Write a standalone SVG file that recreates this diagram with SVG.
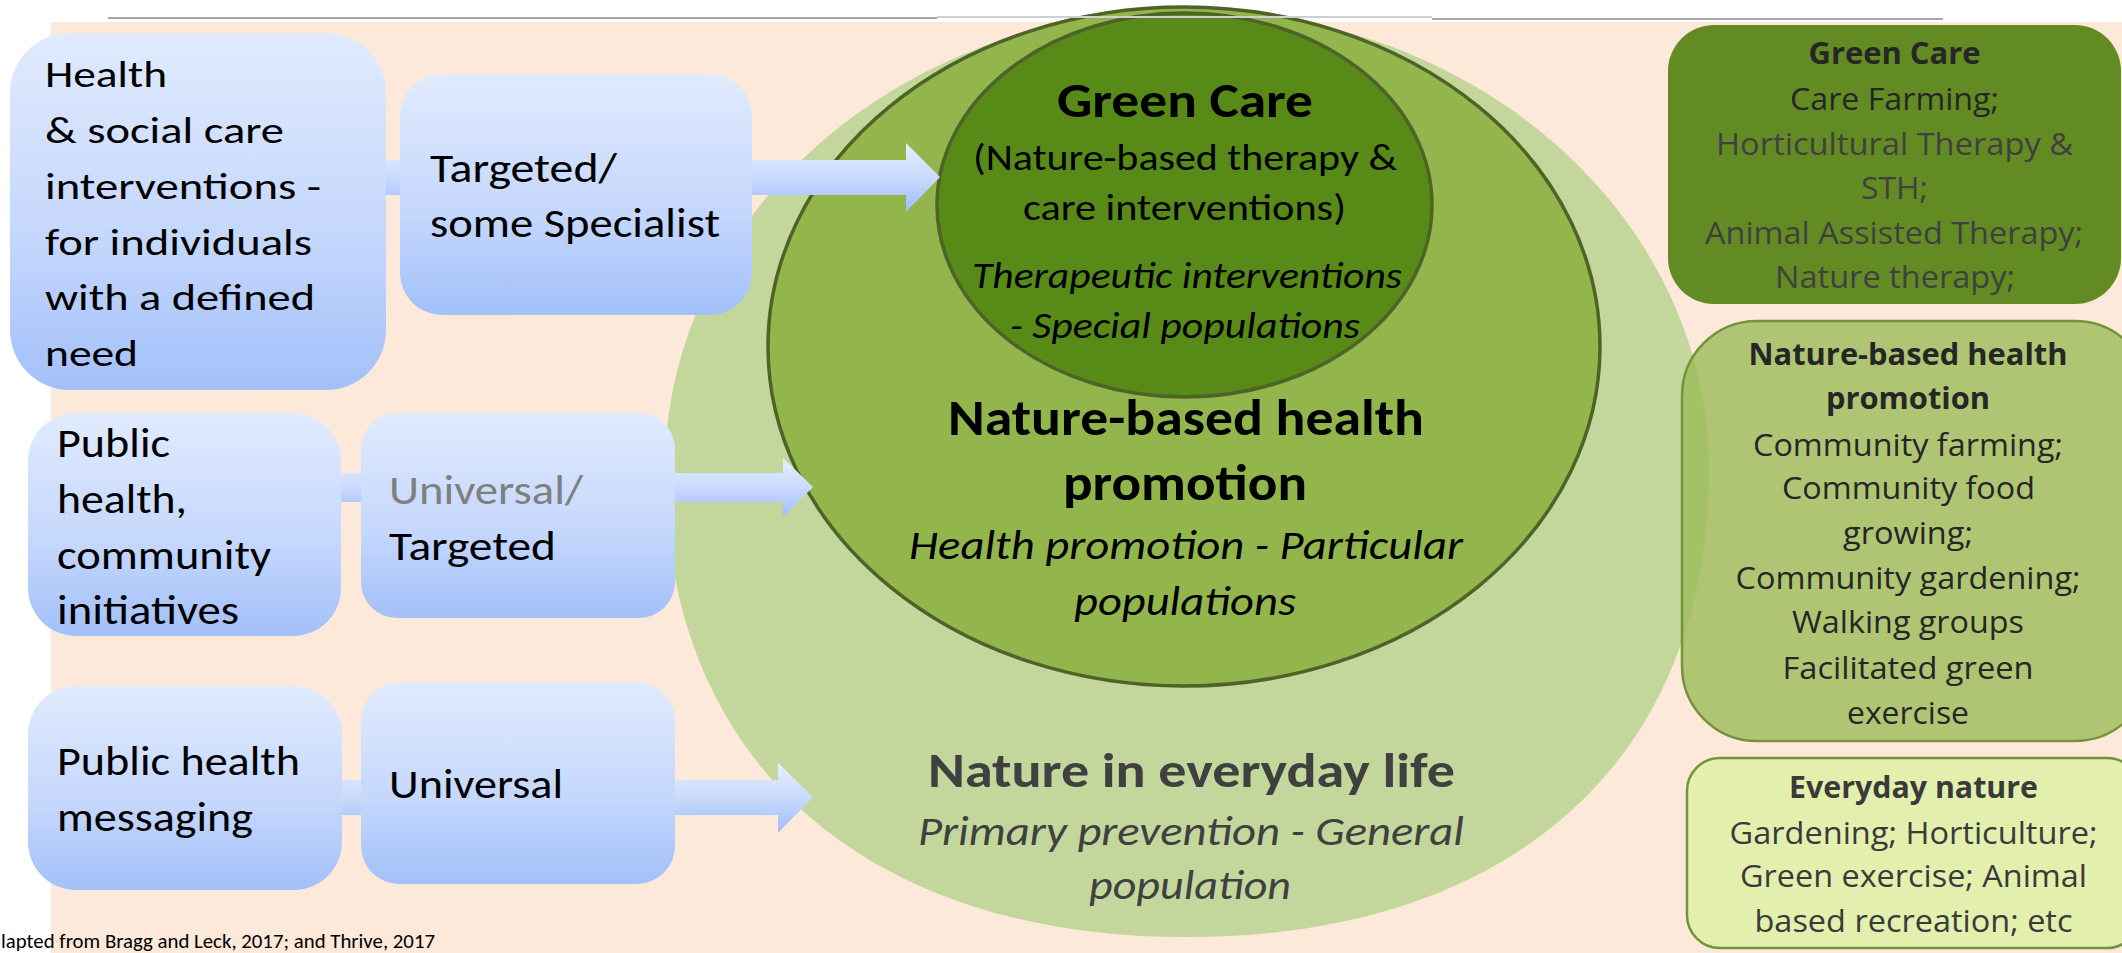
<svg xmlns="http://www.w3.org/2000/svg" width="2122" height="953" viewBox="0 0 2122 953">
<defs>
<linearGradient id="blue" x1="0" y1="0" x2="0" y2="1">
<stop offset="0" stop-color="#e1ebfe"/>
<stop offset="0.6" stop-color="#c3d6fc"/>
<stop offset="1" stop-color="#a2c0fa"/>
</linearGradient>
<linearGradient id="arrowg" x1="0" y1="0" x2="0" y2="1">
<stop offset="0" stop-color="#e8effe"/>
<stop offset="0.5" stop-color="#c9dafd"/>
<stop offset="1" stop-color="#9fbdfa"/>
</linearGradient>
<style>
.lt{font-family:Carlito,Lato,"Liberation Sans",sans-serif;fill:#000}
.rt{font-family:"Open Sans","Noto Sans","DejaVu Sans",sans-serif;font-size:31px}
.b{font-weight:bold}
.i{font-style:italic}
.box{fill:url(#blue)}
.arrow{fill:url(#arrowg)}
</style>
</defs>
<rect x="0" y="0" width="2122" height="953" fill="#ffffff"/>
<rect x="51" y="22" width="2071" height="931" fill="#fde9d9"/>

<g id="outer-everyday">
<path d="M665,470 C665,216 899,10 1187,10 C1475,10 1709,216 1709,470 C1709,760 1511,937 1187,937 C863,937 665,760 665,470 Z" fill="#c3d69b"/>
</g>
<g id="nbhp-ellipse">
<ellipse cx="1184" cy="346.5" rx="416" ry="339.5" fill="#92b64c" stroke="#4f6228" stroke-width="3.5"/>
</g>
<g id="greencare-circle">
<ellipse cx="1184.5" cy="205" rx="247.5" ry="192" fill="#588a17" stroke="#4f6228" stroke-width="3.5"/>
<text class="lt b" x="1057" y="117" font-size="49" textLength="256" lengthAdjust="spacingAndGlyphs">Green Care</text>
<text class="lt" x="973" y="170" font-size="37" textLength="424" lengthAdjust="spacingAndGlyphs">(Nature-based therapy &amp;</text>
<text class="lt" x="1023" y="220" font-size="37" textLength="323" lengthAdjust="spacingAndGlyphs">care interventions)</text>
<text class="lt i" x="972" y="288" font-size="37" textLength="430" lengthAdjust="spacingAndGlyphs">Therapeutic interventions</text>
<text class="lt i" x="1010" y="338" font-size="37" textLength="350" lengthAdjust="spacingAndGlyphs">- Special populations</text>
</g>
<g id="nbhp-text">
<text class="lt b" x="948" y="435" font-size="51" textLength="476" lengthAdjust="spacingAndGlyphs">Nature-based health</text>
<text class="lt b" x="1063" y="500" font-size="51" textLength="244" lengthAdjust="spacingAndGlyphs">promotion</text>
<text class="lt i" x="909" y="559" font-size="41" textLength="554" lengthAdjust="spacingAndGlyphs">Health promotion - Particular</text>
<text class="lt i" x="1074" y="615" font-size="41" textLength="222" lengthAdjust="spacingAndGlyphs">populations</text>
</g>
<g id="everyday-text">
<text class="lt b" x="928" y="787" font-size="48" textLength="527" lengthAdjust="spacingAndGlyphs" style="fill:#404040">Nature in everyday life</text>
<text class="lt i" x="918" y="845" font-size="40" textLength="546" lengthAdjust="spacingAndGlyphs" style="fill:#404040">Primary prevention - General</text>
<text class="lt i" x="1089" y="899" font-size="40" textLength="202" lengthAdjust="spacingAndGlyphs" style="fill:#404040">population</text>
</g>

<g id="connectors">
<polygon class="arrow" points="200,160 906,160 906,143 940,177 906,212 906,195 200,195"/>
<polygon class="arrow" points="180,473 783,473 783,458 813,487 783,517 783,502 180,502"/>
<polygon class="arrow" points="180,780 778,780 778,763 813,797 778,833 778,815 180,815"/>
</g>

<g id="box-health-social">
<rect class="box" x="10" y="33" width="376" height="357" rx="60" ry="60"/>
<text class="lt" x="45" y="87" font-size="37" textLength="122" lengthAdjust="spacingAndGlyphs">Health</text>
<text class="lt" x="45" y="143" font-size="37" textLength="239" lengthAdjust="spacingAndGlyphs">&amp; social care</text>
<text class="lt" x="45" y="199" font-size="37" textLength="276" lengthAdjust="spacingAndGlyphs">interventions -</text>
<text class="lt" x="45" y="255" font-size="37" textLength="267" lengthAdjust="spacingAndGlyphs">for individuals</text>
<text class="lt" x="45" y="310" font-size="37" textLength="270" lengthAdjust="spacingAndGlyphs">with a defined</text>
<text class="lt" x="45" y="366" font-size="37" textLength="93" lengthAdjust="spacingAndGlyphs">need</text>
</g>
<g id="box-targeted-specialist">
<rect class="box" x="400" y="74" width="352" height="241" rx="42" ry="42"/>
<text class="lt" x="430" y="182" font-size="41" textLength="187" lengthAdjust="spacingAndGlyphs">Targeted/</text>
<text class="lt" x="430" y="237" font-size="41" textLength="290" lengthAdjust="spacingAndGlyphs">some Specialist</text>
</g>
<g id="box-public-community">
<rect class="box" x="28" y="413" width="313" height="223" rx="48" ry="48"/>
<text class="lt" x="57" y="457" font-size="41" textLength="113" lengthAdjust="spacingAndGlyphs">Public</text>
<text class="lt" x="57" y="513" font-size="41" textLength="130" lengthAdjust="spacingAndGlyphs">health,</text>
<text class="lt" x="57" y="569" font-size="41" textLength="214" lengthAdjust="spacingAndGlyphs">community</text>
<text class="lt" x="57" y="624" font-size="41" textLength="182" lengthAdjust="spacingAndGlyphs">initiatives</text>
</g>
<g id="box-universal-targeted">
<rect class="box" x="361" y="413" width="314" height="205" rx="36" ry="36"/>
<text class="lt" x="389" y="504" font-size="42" textLength="194" lengthAdjust="spacingAndGlyphs" style="fill:#7f7f7f">Universal/</text>
<text class="lt" x="389" y="560" font-size="42" textLength="167" lengthAdjust="spacingAndGlyphs">Targeted</text>
</g>
<g id="box-public-messaging">
<rect class="box" x="28" y="686" width="314" height="204" rx="48" ry="48"/>
<text class="lt" x="57" y="775" font-size="42" textLength="243" lengthAdjust="spacingAndGlyphs">Public health</text>
<text class="lt" x="57" y="831" font-size="42" textLength="196" lengthAdjust="spacingAndGlyphs">messaging</text>
</g>
<g id="box-universal">
<rect class="box" x="361" y="682" width="314" height="202" rx="38" ry="38"/>
<text class="lt" x="389" y="798" font-size="42" textLength="174" lengthAdjust="spacingAndGlyphs">Universal</text>
</g>

<g id="key-green-care">
<rect x="1668" y="25" width="453" height="279" rx="46" ry="46" fill="#638b23"/>
<text class="rt b" x="1808.5" y="64" fill="#262626" textLength="172" lengthAdjust="spacingAndGlyphs">Green Care</text>
<text class="rt" x="1790" y="110" fill="#262626" textLength="209" lengthAdjust="spacingAndGlyphs">Care Farming;</text>
<text class="rt" x="1716" y="155" fill="#404040" textLength="357" lengthAdjust="spacingAndGlyphs">Horticultural Therapy &amp;</text>
<text class="rt" x="1861" y="199" fill="#404040" textLength="67" lengthAdjust="spacingAndGlyphs">STH;</text>
<text class="rt" x="1705" y="244" fill="#404040" textLength="378" lengthAdjust="spacingAndGlyphs">Animal Assisted Therapy;</text>
<text class="rt" x="1775" y="288" fill="#404040" textLength="240" lengthAdjust="spacingAndGlyphs">Nature therapy;</text>
</g>
<g id="key-nbhp">
<rect x="1682" y="321" width="468" height="420" rx="75" ry="75" fill="#9bbb59" fill-opacity="0.8" stroke="#76923c" stroke-width="2.5"/>
<text class="rt b" x="1748.5" y="364.5" fill="#262626" textLength="319" lengthAdjust="spacingAndGlyphs">Nature-based health</text>
<text class="rt b" x="1826" y="409" fill="#262626" textLength="164" lengthAdjust="spacingAndGlyphs">promotion</text>
<text class="rt" x="1753" y="456" fill="#262626" textLength="310" lengthAdjust="spacingAndGlyphs">Community farming;</text>
<text class="rt" x="1782" y="499" fill="#262626" textLength="253" lengthAdjust="spacingAndGlyphs">Community food</text>
<text class="rt" x="1843" y="544" fill="#262626" textLength="130" lengthAdjust="spacingAndGlyphs">growing;</text>
<text class="rt" x="1735.5" y="589" fill="#262626" textLength="345" lengthAdjust="spacingAndGlyphs">Community gardening;</text>
<text class="rt" x="1792" y="633" fill="#262626" textLength="232" lengthAdjust="spacingAndGlyphs">Walking groups</text>
<text class="rt" x="1782.5" y="679" fill="#262626" textLength="251" lengthAdjust="spacingAndGlyphs">Facilitated green</text>
<text class="rt" x="1847" y="724" fill="#262626" textLength="122" lengthAdjust="spacingAndGlyphs">exercise</text>
</g>
<g id="key-everyday">
<rect x="1687" y="758" width="453" height="190" rx="33" ry="33" fill="#e2efad" stroke="#76923c" stroke-width="2.5"/>
<text class="rt b" x="1789" y="798" fill="#3a3a3a" textLength="249" lengthAdjust="spacingAndGlyphs">Everyday nature</text>
<text class="rt" x="1729.5" y="843.5" fill="#3a3a3a" textLength="368" lengthAdjust="spacingAndGlyphs">Gardening; Horticulture;</text>
<text class="rt" x="1740" y="887" fill="#3a3a3a" textLength="347" lengthAdjust="spacingAndGlyphs">Green exercise; Animal</text>
<text class="rt" x="1754.5" y="932" fill="#3a3a3a" textLength="318" lengthAdjust="spacingAndGlyphs">based recreation; etc</text>
</g>

<g id="caption">
<text class="lt" x="1" y="948" font-size="20" textLength="434" lengthAdjust="spacingAndGlyphs">lapted from Bragg and Leck, 2017; and Thrive, 2017</text>
</g>
<g id="top-rule" stroke-width="2">
<line x1="108" y1="18" x2="937" y2="18" stroke="#a6a6a6"/>
<line x1="937" y1="17" x2="1432" y2="17" stroke="#cfcfcf"/>
<line x1="1432" y1="19" x2="1943" y2="19" stroke="#a6a6a6"/>
</g>
</svg>
